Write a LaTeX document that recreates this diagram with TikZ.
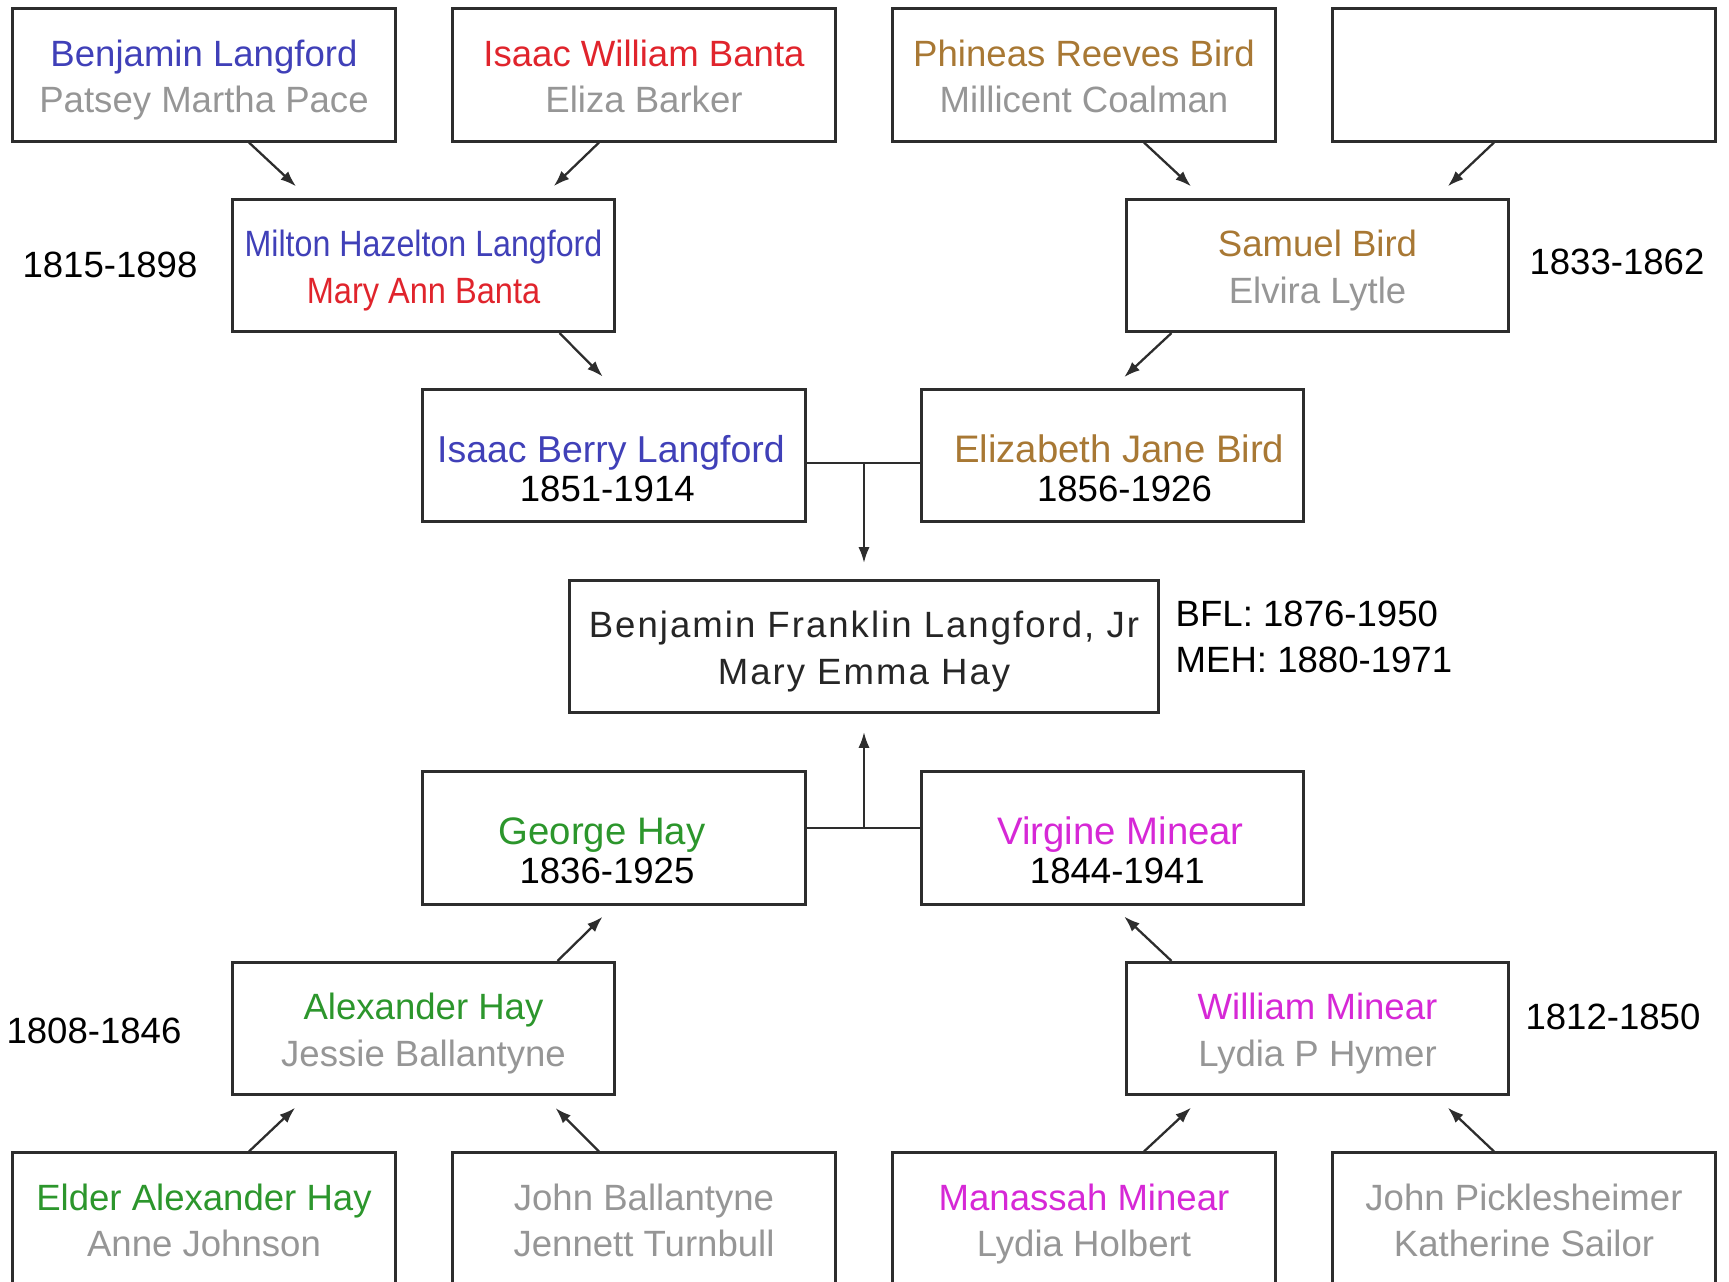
\documentclass[tikz,border=0pt]{standalone}
\usepackage{fontspec}
\setmainfont{Liberation Sans}
\newfontfamily\trackedfont[LetterSpace=5.5]{Liberation Sans}
\usepackage{graphicx}
\usetikzlibrary{arrows.meta,calc}
\definecolor{langblue}{RGB}{64,64,184}
\definecolor{bantared}{RGB}{224,36,44}
\definecolor{birdbrown}{RGB}{168,120,52}
\definecolor{haygreen}{RGB}{44,150,44}
\definecolor{minearpink}{RGB}{214,40,214}
\definecolor{spousegray}{RGB}{150,150,150}
\definecolor{boxline}{RGB}{45,45,45}
\newcommand{\topstrut}{\rule{0pt}{11.5pt}}
\newcommand{\botstrut}{\rule[-3.2pt]{0pt}{3.2pt}}
\newcommand{\datestrut}{\rule{0pt}{15pt}}
\newcommand{\pairtext}[4]{\topstrut\textcolor{#1}{#2}\\\textcolor{#3}{#4}\botstrut}
\newcommand{\datedname}[3][10.9]{{\fontsize{#1}{11}\selectfont\textcolor{#2}{#3}}}
\begin{document}
\begin{tikzpicture}[x=0.01cm, y=-0.01cm,
  person/.style={draw=boxline, line width=0.85pt, minimum width=3.82cm, minimum height=1.32cm,
    inner sep=0pt, align=center, font=\fontsize{10.4}{13.3}\selectfont},
  dated/.style={person, font=\fontsize{10.4}{11}\selectfont},
  mainbox/.style={person, minimum width=5.88cm, text=black!85, font=\trackedfont\fontsize{10.4}{13.3}\selectfont},
  years/.style={inner sep=0pt, align=left, font=\fontsize{10.4}{13.1}\selectfont},
  parent/.style={draw=boxline, line width=0.65pt, -{Latex[length=4.5pt,width=3.2pt]}, shorten >=0.17cm},
  couple/.style={draw=boxline, line width=0.75pt}]
\clip (0,0) rectangle (1729,1282);
\node[person] (ben) at (204,75) {\pairtext{langblue}{Benjamin Langford}{spousegray}{Patsey Martha Pace}};
\node[person] (isaacwb) at (644,75) {\pairtext{bantared}{Isaac William Banta}{spousegray}{Eliza Barker}};
\node[person] (phineas) at (1084,75) {\pairtext{birdbrown}{Phineas Reeves Bird}{spousegray}{Millicent Coalman}};
\node[person] (unknown) at (1524,75) {};
\node[person] (milton) at (423.5,265.5) {\topstrut\scalebox{0.88}[1]{\textcolor{langblue}{Milton Hazelton Langford}}\\\scalebox{0.89}[1]{\textcolor{bantared}{Mary Ann Banta}}\botstrut};
\node[person] (samuel) at (1317.5,265.5) {\pairtext{birdbrown}{Samuel Bird}{spousegray}{Elvira Lytle}};
\node[dated] (isaac) at (614,455.5) {\datestrut\hspace*{-1.7pt}\datedname[10.65]{langblue}{Isaac Berry Langford}\\\hspace*{-3.8pt}1851-1914};
\node[dated] (eliz) at (1112.5,455.5) {\datestrut\hspace*{3.8pt}\datedname{birdbrown}{Elizabeth Jane Bird}\\\hspace*{6.8pt}1856-1926};
\node[mainbox] (bfl) at (864,646.5) {\topstrut Benjamin Franklin Langford, Jr\\Mary Emma Hay\botstrut};
\node[dated] (george) at (614,838) {\datestrut\hspace*{-6.8pt}\datedname{haygreen}{George Hay}\\\hspace*{-4pt}1836-1925};
\node[dated] (virgine) at (1112.5,838) {\datestrut\hspace*{4.6pt}\datedname{minearpink}{Virgine Minear}\\\hspace*{2.8pt}1844-1941};
\node[person] (alexander) at (423.5,1028.5) {\pairtext{haygreen}{Alexander Hay}{spousegray}{Jessie Ballantyne}};
\node[person] (william) at (1317.5,1028.5) {\pairtext{minearpink}{William Minear}{spousegray}{Lydia P Hymer}};
\node[person] (elder) at (204,1219) {\pairtext{haygreen}{Elder Alexander Hay}{spousegray}{Anne Johnson}};
\node[person] (john) at (644,1219) {\pairtext{spousegray}{John Ballantyne}{spousegray}{Jennett Turnbull}};
\node[person] (manassah) at (1084,1219) {\pairtext{minearpink}{Manassah Minear}{spousegray}{Lydia Holbert}};
\node[person] (pickle) at (1524,1219) {\pairtext{spousegray}{John Picklesheimer}{spousegray}{Katherine Sailor}};
\node[years] (miltonyears) at (110,265) {1815-1898};
\node[years] (samuelyears) at (1617,262) {1833-1862};
\node[years, anchor=west] (bflyears) at (1175,637) {BFL: 1876-1950\\MEH: 1880-1971};
\node[years] (alexanderyears) at (94,1031) {1808-1846};
\node[years] (williamyears) at (1613,1017) {1812-1850};
\draw[parent] ($(ben.south)+(45,0)$) -- ($(milton.north)+(-115,0)$);
\draw[parent] ($(isaacwb.south)+(-45,0)$) -- ($(milton.north)+(118,0)$);
\draw[parent] ($(phineas.south)+(60,0)$) -- ($(samuel.north)+(-114,0)$);
\draw[parent] ($(unknown.south)+(-30,0)$) -- ($(samuel.north)+(118,0)$);
\draw[parent, shorten >=0.16cm] ($(milton.south)+(136,0)$) -- (isaac.north);
\draw[parent, shorten >=0.16cm] ($(samuel.south)+(-146,0)$) -- (eliz.north);
\coordinate (upjoin) at (864,463);
\draw[couple] (isaac.east |- upjoin) -- (eliz.west |- upjoin);
\draw[parent, shorten >=0.16cm] (upjoin) -- (bfl.north);
\coordinate (downjoin) at (864,828);
\draw[couple] (george.east |- downjoin) -- (virgine.west |- downjoin);
\draw[parent, shorten >=0.18cm] (downjoin) -- (bfl.south);
\draw[parent, shorten >=0.16cm] ($(alexander.north)+(134,0)$) -- (george.south);
\draw[parent, shorten >=0.16cm] ($(william.north)+(-146,0)$) -- (virgine.south);
\draw[parent] ($(elder.north)+(45,0)$) -- ($(alexander.south)+(-116,0)$);
\draw[parent] ($(john.north)+(-45,0)$) -- ($(alexander.south)+(120,0)$);
\draw[parent] ($(manassah.north)+(60,0)$) -- ($(william.south)+(-114,0)$);
\draw[parent] ($(pickle.north)+(-30,0)$) -- ($(william.south)+(118,0)$);
\end{tikzpicture}
\end{document}
